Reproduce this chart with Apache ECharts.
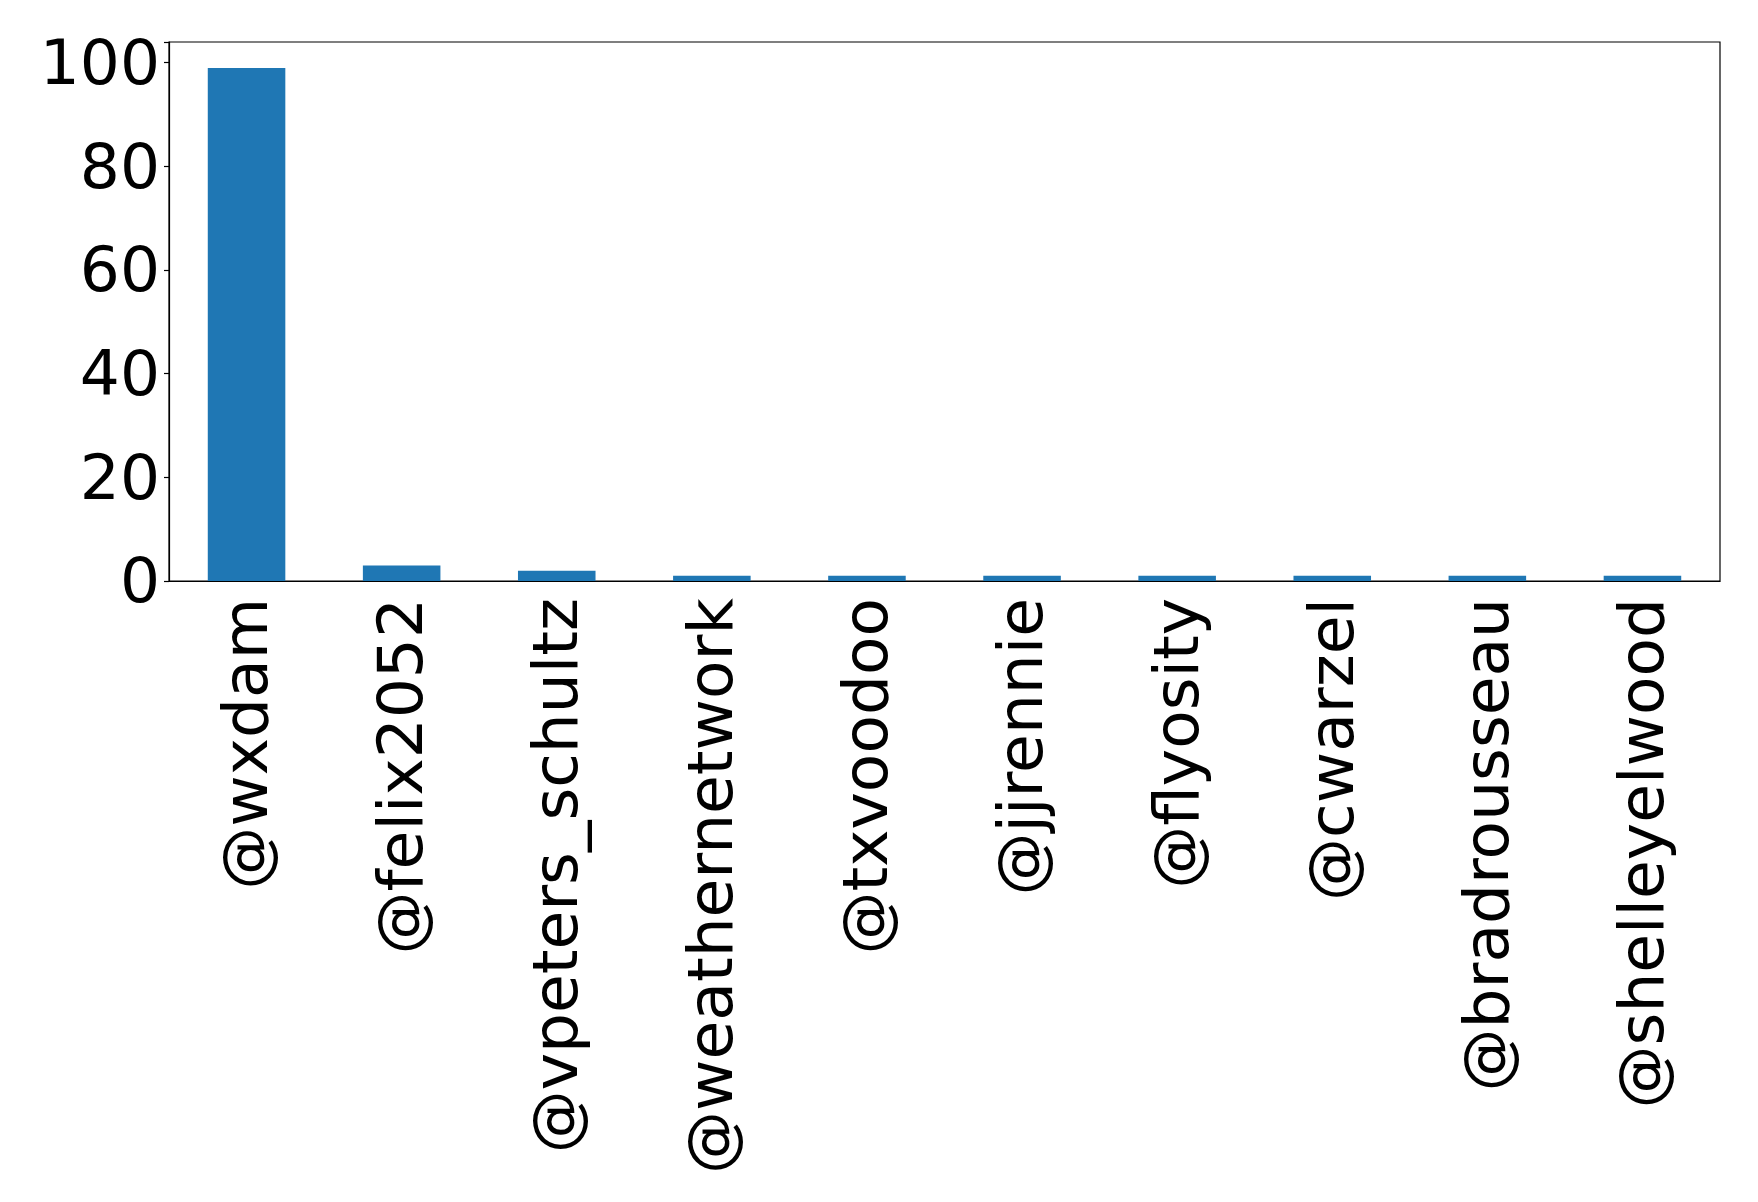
<!DOCTYPE html>
<html>
<head>
<meta charset="utf-8">
<script src="https://cdn.jsdelivr.net/npm/echarts@6/dist/echarts.min.js"></script>
<style>
  html, body { margin: 0; padding: 0; background: #fff; }
  #chart { width: 1758px; height: 1202px; }
</style>
</head>
<body>
<div id="chart"></div>
<script>
var users = ['@wxdam', '@felix2052', '@vpeters_schultz', '@weathernetwork', '@txvoodoo',
             '@jjrennie', '@flyosity', '@cwarzel', '@bradrousseau', '@shelleyelwood'];
var counts = [99, 3, 2, 1, 1, 1, 1, 1, 1, 1];
var yTicks = [0, 20, 40, 60, 80, 100];

var myChart = echarts.init(document.getElementById('chart'));

var font = 'DejaVu Sans';

var option = {
    animation: false,
    backgroundColor: '#fff',
    grid: {
        left: 169,
        right: 38,
        top: 42,
        bottom: 621,
        show: true,
        borderColor: '#000',
        borderWidth: 1.2,
        containLabel: false
    },
    xAxis: {
        type: 'category',
        data: users,
        axisLine: { lineStyle: { color: '#000', width: 1.2 } },
        axisTick: { alignWithLabel: true, length: 5, lineStyle: { color: '#000', width: 1.2 } },
        axisLabel: {
            rotate: 90,
            interval: 0,
            margin: 17,
            // rich padding nudges the rotated text so its ink sits centred on the tick
            formatter: function (v) { return '{t|' + v + '}'; },
            rich: {
                t: { color: '#000', fontFamily: font, fontSize: 63, lineHeight: 63, padding: [8, 0, 0, 0] }
            }
        },
        splitLine: { show: false }
    },
    yAxis: {
        type: 'value',
        min: 0,
        max: 104,
        interval: 20,
        axisLine: { show: true, lineStyle: { color: '#000', width: 1.2 } },
        axisTick: { show: true, length: 5, lineStyle: { color: '#000', width: 1.2 } },
        axisLabel: {
            margin: 9,
            formatter: function (v) {
                return yTicks.indexOf(v) >= 0 ? '{n|' + v + '}' : '';
            },
            rich: {
                n: { color: '#000', fontFamily: font, fontSize: 63, lineHeight: 63, padding: [10, 0, 0, 0] }
            }
        },
        splitLine: { show: false }
    },
    series: [
        {
            type: 'bar',
            data: counts,
            barWidth: '50%',
            itemStyle: { color: '#1f77b4' }
        }
    ]
};

myChart.setOption(option);
</script>
</body>
</html>
